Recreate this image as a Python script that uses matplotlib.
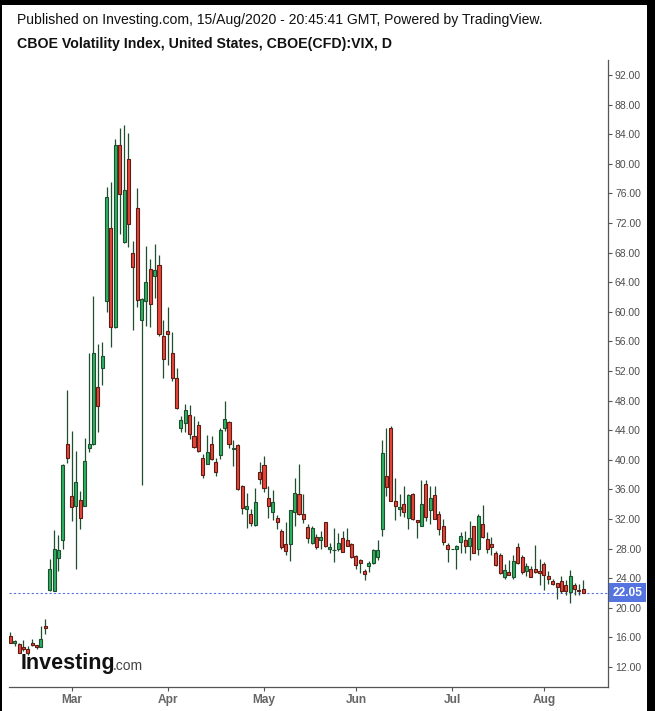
import matplotlib
matplotlib.use("Agg")
import matplotlib.pyplot as plt
from matplotlib.patches import Rectangle
from matplotlib.transforms import blended_transform_factory

# --------------------------------------------
# Data: daily VIX CFD candles
# --------------------------------------------
opens = [16.2, 15.2, 15.1, 14.75, 14.4, 15.2, 14.95, 14.75, 17.6, 22.4,
         22.3, 26.8, 29.1, 42.1, 35.1, 33.8, 34.6, 33.8, 41.55, 42.1,
         49.8, 52.4, 61.5, 71.3, 57.9, 82.6, 69.4, 80.6, 67.9, 74.0,
         58.9, 61.4, 65.8, 64.9, 66.3, 56.7, 57.4, 54.5, 51.1, 44.3,
         45.0, 46.0, 43.2, 44.7, 40.3, 39.5, 42.1, 39.7, 40.7, 44.3,
         45.1, 41.4, 42.0, 36.5, 33.3, 32.7, 31.2, 38.3, 39.3, 34.9,
         32.9, 32.2, 30.4, 28.6, 28.6, 32.9, 35.4, 32.65, 30.9, 28.8,
         29.6, 29.1, 31.6, 27.9, 27.8, 27.9, 29.5, 29.1, 28.6, 27.0,
         26.5, 25.0, 25.7, 26.0, 26.9, 30.6, 37.8, 44.3, 34.4, 33.4,
         34.0, 32.2, 35.4, 31.9, 31.1, 36.7, 33.2, 35.2, 32.65, 31.1,
         28.5, 27.9, 27.9, 28.9, 29.2, 28.3, 31.0, 28.0, 31.3, 29.3,
         28.6, 27.4, 27.1, 24.2, 24.8, 24.1, 28.2, 26.9, 25.0, 25.3,
         25.2, 25.0, 25.9, 24.3, 23.6, 23.4, 23.6, 23.1, 22.1, 23.1,
         22.4, 22.5]
highs = [16.8, 15.6, 15.2, 15.65, 14.8, 15.75, 15.0, 17.5, 18.45, 26.55,
         30.5, 29.8, 39.4, 49.5, 43.9, 41.2, 35.8, 42.9, 54.4, 62.1,
         55.7, 55.9, 76.9, 77.6, 83.4, 84.8, 85.3, 84.1, 69.6, 76.7,
         61.9, 68.9, 67.1, 69.2, 67.7, 58.9, 60.6, 57.3, 52.4, 45.9,
         47.6, 47.4, 45.9, 45.2, 40.8, 43.3, 43.2, 40.3, 44.3, 48.0,
         45.3, 42.7, 42.2, 36.6, 35.5, 33.3, 36.2, 39.7, 40.5, 36.4,
         35.9, 32.5, 30.6, 31.6, 33.2, 37.5, 39.4, 35.4, 31.3, 31.0,
         29.95, 30.4, 31.6, 28.7, 30.75, 30.1, 30.4, 30.75, 28.7, 27.1,
         26.55, 25.3, 26.3, 28.0, 29.2, 42.7, 44.3, 44.6, 37.6, 35.4,
         36.5, 35.4, 35.5, 31.9, 37.3, 37.3, 36.5, 36.5, 33.1, 32.0,
         28.8, 27.9, 28.5, 30.3, 30.4, 31.8, 31.0, 32.7, 33.9, 30.2,
         29.6, 27.7, 27.4, 25.9, 26.5, 27.1, 28.8, 27.1, 26.1, 25.6,
         28.5, 26.55, 26.2, 25.0, 23.9, 23.4, 24.3, 23.8, 25.1, 23.4,
         23.2, 23.8]
lows = [15.2, 14.8, 13.9, 14.2, 13.6, 14.8, 14.5, 14.75, 16.5, 22.3,
        22.3, 25.0, 28.0, 39.6, 31.8, 25.2, 30.6, 33.7, 41.1, 42.0,
        43.8, 50.1, 60.0, 55.3, 57.8, 70.5, 69.3, 68.7, 57.5, 60.6,
        36.6, 58.1, 57.9, 61.9, 56.8, 51.1, 52.8, 50.6, 46.9, 43.7,
        43.7, 42.8, 41.55, 41.1, 37.5, 39.4, 40.0, 37.8, 40.1, 43.9,
        41.55, 39.2, 35.9, 32.7, 30.8, 31.0, 31.05, 36.7, 35.7, 32.2,
        31.9, 30.6, 28.0, 27.1, 26.3, 31.0, 32.5, 31.4, 28.7, 28.6,
        28.0, 27.9, 28.2, 27.45, 26.2, 27.7, 27.6, 28.3, 26.8, 25.2,
        24.7, 23.8, 24.9, 25.9, 26.5, 29.7, 35.1, 34.5, 31.9, 32.4,
        32.3, 30.6, 31.9, 29.5, 31.1, 31.8, 31.3, 32.0, 29.8, 28.5,
        26.2, 27.9, 25.2, 27.45, 27.45, 26.4, 27.45, 27.1, 29.5, 27.45,
        27.1, 25.6, 24.6, 23.85, 24.4, 23.9, 25.9, 24.6, 24.3, 24.1,
        24.75, 23.1, 22.4, 23.2, 23.1, 21.2, 22.0, 21.7, 20.6, 21.7,
        21.7, 22.05]
closes = [15.3, 15.5, 13.9, 14.4, 13.95, 15.0, 14.7, 15.75, 17.3, 25.2,
          28.0, 27.8, 39.3, 40.2, 33.6, 37.0, 32.1, 39.8, 42.1, 54.5,
          47.3, 54.0, 75.5, 57.9, 82.6, 75.9, 76.4, 71.9, 66.0, 61.6,
          61.7, 64.0, 61.0, 65.6, 57.0, 53.6, 57.0, 51.0, 47.0, 45.4,
          46.8, 43.45, 41.8, 41.2, 37.9, 41.0, 40.1, 38.3, 44.0, 45.5,
          42.1, 41.55, 36.0, 33.5, 33.8, 31.4, 34.3, 37.4, 36.2, 33.8,
          34.3, 31.6, 28.2, 27.7, 33.2, 35.5, 32.7, 32.05, 29.5, 30.75,
          28.2, 29.6, 28.3, 28.2, 27.8, 28.7, 27.6, 28.4, 26.9, 25.8,
          26.0, 24.6, 26.0, 27.8, 27.8, 40.9, 36.3, 34.5, 33.8, 33.6,
          33.0, 35.2, 32.0, 31.6, 34.0, 32.3, 34.9, 32.0, 30.6, 28.9,
          27.9, 27.9, 28.3, 29.7, 28.3, 29.4, 27.45, 32.4, 29.6, 27.9,
          28.2, 25.8, 24.7, 25.1, 24.5, 26.3, 26.0, 24.9, 25.6, 24.2,
          24.9, 24.7, 24.4, 23.9, 23.2, 22.85, 22.3, 22.3, 24.3, 22.5,
          22.3, 22.05]

month_labels = ["Mar", "Apr", "May", "Jun", "Jul", "Aug"]
month_first_bar = [14, 36, 58, 79, 101, 122]

y_ticks = list(range(12, 93, 4))

# --------------------------------------------
# Styles
# --------------------------------------------
UP_FILL = "#2bb35f"
UP_EDGE = "#1f4f2e"
DOWN_FILL = "#e8453a"
DOWN_EDGE = "#5c1d15"
WICK = "#1f4f2e"
AXIS_GREY = "#555555"
LABEL_GREY = "#4d4d4d"
LAST_BLUE = "#5574e0"

plt.rcParams['font.family'] = ['Liberation Sans', 'DejaVu Sans']

fig = plt.figure(figsize=(6.55, 7.11), dpi=100)
ax = fig.add_axes([9 / 655, 24 / 711, 599 / 655, 627 / 711])

# --------------------------------------------
# Candles
# --------------------------------------------
idx = list(range(len(closes)))
ax.vlines(idx, lows, highs, color=WICK, linewidth=0.9, zorder=2)

bottoms = [min(o, c) for o, c in zip(opens, closes)]
heights = [max(abs(c - o), 0.08) for o, c in zip(opens, closes)]
fills = [UP_FILL if c >= o else DOWN_FILL for o, c in zip(opens, closes)]
edges = [UP_EDGE if c >= o else DOWN_EDGE for o, c in zip(opens, closes)]
ax.bar(idx, heights, bottom=bottoms, width=0.7, color=fills,
       edgecolor=edges, linewidth=0.8, zorder=3)

# last price line
last = closes[-1]
ax.axhline(last, color=LAST_BLUE, linestyle=(0, (2, 2)), linewidth=0.8, zorder=1)
tr = blended_transform_factory(ax.transAxes, ax.transData)
ax.text(1.008, last, "%.2f" % last, transform=tr, ha="left", va="center",
        fontsize=8.6, color="white", fontweight="bold",
        bbox=dict(boxstyle="square,pad=0.3", facecolor=LAST_BLUE, edgecolor="none"))

# --------------------------------------------
# Axes
# --------------------------------------------
ax.set_xlim(-0.3, 136.65)
ax.set_ylim(9.3, 94.03)

ax.yaxis.tick_right()
ax.set_yticks(y_ticks)
ax.set_yticklabels(["%.2f" % t for t in y_ticks])
ax.set_xticks(month_first_bar)
ax.set_xticklabels(month_labels, fontweight="bold")
ax.tick_params(axis="y", length=3, width=0.8, color=AXIS_GREY, labelcolor=LABEL_GREY,
               labelsize=7.5, pad=2)
ax.tick_params(axis="x", length=3, width=0.8, color=AXIS_GREY, labelcolor="#666666",
               labelsize=8.6, pad=2)

for side in ["top", "left"]:
    ax.spines[side].set_visible(False)
for side in ["right", "bottom"]:
    ax.spines[side].set_color(AXIS_GREY)
    ax.spines[side].set_linewidth(0.9)

# --------------------------------------------
# Header and watermark
# --------------------------------------------
fig.text(17 / 655, 1 - 20 / 711,
         "Published on Investing.com, 15/Aug/2020 - 20:45:41 GMT, Powered by TradingView.",
         fontsize=10.1, va="center", ha="left", color="#111111")
fig.text(17 / 655, 1 - 44 / 711,
         "CBOE Volatility Index, United States, CBOE(CFD):VIX, D",
         fontsize=10.2, va="center", ha="left", fontweight="bold", color="#111111")

fig.text(21 / 655, 1 - 663 / 711, "Investing", fontsize=15.5, fontweight="heavy",
         va="center", ha="left", color="#111111")
fig.text(113 / 655, 1 - 666 / 711, ".com", fontsize=10, va="center", ha="left",
         color="#444444")

# black frame (top, left, right) of the screenshot
fig.patches.append(Rectangle((0, 1 - 5 / 711), 1, 5 / 711, transform=fig.transFigure,
                             facecolor="black", edgecolor="none", zorder=10))
fig.patches.append(Rectangle((0, 0), 2 / 655, 1, transform=fig.transFigure,
                             facecolor="black", edgecolor="none", zorder=10))
fig.patches.append(Rectangle((647 / 655, 0), 8 / 655, 1, transform=fig.transFigure,
                             facecolor="black", edgecolor="none", zorder=10))

fig.savefig("out.png", dpi=100)
